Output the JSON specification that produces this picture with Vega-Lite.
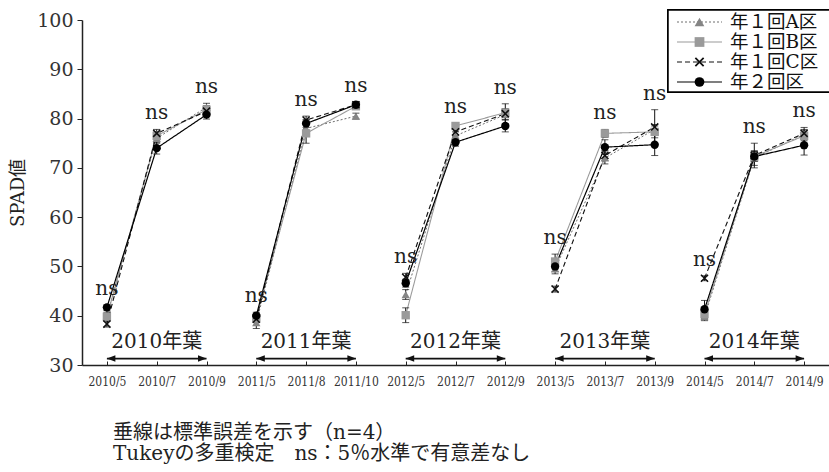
{
  "$schema": "https://vega.github.io/schema/vega-lite/v6.json",
  "width": 747,
  "height": 345,
  "autosize": {"type": "none"},
  "padding": {"left": 82, "top": 20, "right": 0, "bottom": 107},
  "background": "white",
  "config": {
    "view": {"stroke": null},
    "font": "DejaVu Serif, Noto Sans CJK JP, serif",
    "axis": {
      "grid": false,
      "domainColor": "#222",
      "domainWidth": 1.5,
      "tickColor": "#222",
      "labelColor": "#333",
      "labelFont": "DejaVu Serif",
      "titleFont": "DejaVu Serif, Noto Sans CJK JP",
      "titleFontWeight": "normal",
      "titleColor": "#222"
    },
    "axisX": {
      "labelAngle": 0,
      "labelFont": "DejaVu Serif Condensed, DejaVu Serif",
      "labelFontSize": 12,
      "labelPadding": 15,
      "tickSize": -4
    },
    "axisY": {
      "labelFontSize": 19,
      "labelPadding": 4,
      "tickSize": 5,
      "titleFontSize": 18,
      "titlePadding": 9
    }
  },
  "title": {
    "text": ["垂線は標準誤差を示す（n=4）", "Tukeyの多重検定　ns：5％水準で有意差なし"],
    "orient": "bottom",
    "anchor": "start",
    "frame": "group",
    "dx": 31,
    "offset": 36,
    "font": "DejaVu Serif, Noto Sans CJK JP",
    "fontSize": 20,
    "fontWeight": "normal",
    "lineHeight": 21,
    "color": "#222"
  },
  "datasets": {
    "spad": [
      {"date": "2010/5", "year": "2010", "series": "年１回A区", "value": 40.0, "se": 1.0},
      {"date": "2010/5", "year": "2010", "series": "年１回B区", "value": 39.8, "se": 0.8},
      {"date": "2010/5", "year": "2010", "series": "年１回C区", "value": 38.3, "se": 0.6},
      {"date": "2010/5", "year": "2010", "series": "年２回区", "value": 41.7, "se": 0.5},
      {"date": "2010/7", "year": "2010", "series": "年１回A区", "value": 76.0, "se": 1.0},
      {"date": "2010/7", "year": "2010", "series": "年１回B区", "value": 76.5, "se": 0.8},
      {"date": "2010/7", "year": "2010", "series": "年１回C区", "value": 77.0, "se": 0.8},
      {"date": "2010/7", "year": "2010", "series": "年２回区", "value": 74.0, "se": 1.2},
      {"date": "2010/9", "year": "2010", "series": "年１回A区", "value": 82.3, "se": 0.8},
      {"date": "2010/9", "year": "2010", "series": "年１回B区", "value": 81.8, "se": 0.8},
      {"date": "2010/9", "year": "2010", "series": "年１回C区", "value": 81.5, "se": 0.7},
      {"date": "2010/9", "year": "2010", "series": "年２回区", "value": 80.8, "se": 0.9},
      {"date": "2011/5", "year": "2011", "series": "年１回A区", "value": 38.6, "se": 1.2},
      {"date": "2011/5", "year": "2011", "series": "年１回B区", "value": 39.5, "se": 0.8},
      {"date": "2011/5", "year": "2011", "series": "年１回C区", "value": 39.3, "se": 0.6},
      {"date": "2011/5", "year": "2011", "series": "年２回区", "value": 40.0, "se": 0.7},
      {"date": "2011/8", "year": "2011", "series": "年１回A区", "value": 78.0, "se": 1.5},
      {"date": "2011/8", "year": "2011", "series": "年１回B区", "value": 77.0, "se": 2.0},
      {"date": "2011/8", "year": "2011", "series": "年１回C区", "value": 79.7, "se": 0.8},
      {"date": "2011/8", "year": "2011", "series": "年２回区", "value": 79.0, "se": 0.8},
      {"date": "2011/10", "year": "2011", "series": "年１回A区", "value": 80.5, "se": 0.6},
      {"date": "2011/10", "year": "2011", "series": "年１回B区", "value": 82.5, "se": 0.5},
      {"date": "2011/10", "year": "2011", "series": "年１回C区", "value": 82.8, "se": 0.5},
      {"date": "2011/10", "year": "2011", "series": "年２回区", "value": 82.8, "se": 0.6},
      {"date": "2012/5", "year": "2012", "series": "年１回A区", "value": 44.3, "se": 1.0},
      {"date": "2012/5", "year": "2012", "series": "年１回B区", "value": 40.1, "se": 1.5},
      {"date": "2012/5", "year": "2012", "series": "年１回C区", "value": 47.8, "se": 0.8},
      {"date": "2012/5", "year": "2012", "series": "年２回区", "value": 46.6, "se": 0.8},
      {"date": "2012/7", "year": "2012", "series": "年１回A区", "value": 76.5, "se": 0.8},
      {"date": "2012/7", "year": "2012", "series": "年１回B区", "value": 78.5, "se": 0.6},
      {"date": "2012/7", "year": "2012", "series": "年１回C区", "value": 77.3, "se": 0.8},
      {"date": "2012/7", "year": "2012", "series": "年２回区", "value": 75.2, "se": 0.8},
      {"date": "2012/9", "year": "2012", "series": "年１回A区", "value": 80.8, "se": 1.0},
      {"date": "2012/9", "year": "2012", "series": "年１回B区", "value": 81.2, "se": 0.8},
      {"date": "2012/9", "year": "2012", "series": "年１回C区", "value": 81.0, "se": 2.0},
      {"date": "2012/9", "year": "2012", "series": "年２回区", "value": 78.5, "se": 1.2},
      {"date": "2013/5", "year": "2013", "series": "年１回A区", "value": 49.5, "se": 1.0},
      {"date": "2013/5", "year": "2013", "series": "年１回B区", "value": 51.0, "se": 1.5},
      {"date": "2013/5", "year": "2013", "series": "年１回C区", "value": 45.4, "se": 0.6},
      {"date": "2013/5", "year": "2013", "series": "年２回区", "value": 50.0, "se": 1.0},
      {"date": "2013/7", "year": "2013", "series": "年１回A区", "value": 72.0, "se": 1.2},
      {"date": "2013/7", "year": "2013", "series": "年１回B区", "value": 77.0, "se": 0.8},
      {"date": "2013/7", "year": "2013", "series": "年１回C区", "value": 72.5, "se": 1.0},
      {"date": "2013/7", "year": "2013", "series": "年２回区", "value": 74.2, "se": 1.5},
      {"date": "2013/9", "year": "2013", "series": "年１回A区", "value": 77.8, "se": 1.0},
      {"date": "2013/9", "year": "2013", "series": "年１回B区", "value": 77.3, "se": 1.2},
      {"date": "2013/9", "year": "2013", "series": "年１回C区", "value": 78.3, "se": 3.5},
      {"date": "2013/9", "year": "2013", "series": "年２回区", "value": 74.7, "se": 2.2},
      {"date": "2014/5", "year": "2014", "series": "年１回A区", "value": 39.8, "se": 0.8},
      {"date": "2014/5", "year": "2014", "series": "年１回B区", "value": 40.3, "se": 1.0},
      {"date": "2014/5", "year": "2014", "series": "年１回C区", "value": 47.6, "se": 0.5},
      {"date": "2014/5", "year": "2014", "series": "年２回区", "value": 41.3, "se": 1.8},
      {"date": "2014/7", "year": "2014", "series": "年１回A区", "value": 72.0, "se": 1.5},
      {"date": "2014/7", "year": "2014", "series": "年１回B区", "value": 72.3, "se": 1.0},
      {"date": "2014/7", "year": "2014", "series": "年１回C区", "value": 72.5, "se": 2.5},
      {"date": "2014/7", "year": "2014", "series": "年２回区", "value": 72.3, "se": 1.0},
      {"date": "2014/9", "year": "2014", "series": "年１回A区", "value": 76.8, "se": 1.0},
      {"date": "2014/9", "year": "2014", "series": "年１回B区", "value": 76.5, "se": 1.0},
      {"date": "2014/9", "year": "2014", "series": "年１回C区", "value": 77.0, "se": 1.2},
      {"date": "2014/9", "year": "2014", "series": "年２回区", "value": 74.6, "se": 2.0}
    ],
    "years": [
      {"label": "2010年葉", "start": "2010/5", "mid": "2010/7", "end": "2010/9"},
      {"label": "2011年葉", "start": "2011/5", "mid": "2011/8", "end": "2011/10"},
      {"label": "2012年葉", "start": "2012/5", "mid": "2012/7", "end": "2012/9"},
      {"label": "2013年葉", "start": "2013/5", "mid": "2013/7", "end": "2013/9"},
      {"label": "2014年葉", "start": "2014/5", "mid": "2014/7", "end": "2014/9"}
    ],
    "seriesList": [
      {"series": "年１回A区"},
      {"series": "年１回B区"},
      {"series": "年１回C区"},
      {"series": "年２回区"}
    ]
  },
  "resolve": {"scale": {"x": "independent", "y": "independent"}},
  "layer": [
    {
      "layer": [
        {
          "data": {"name": "spad"},
          "mark": {"type": "line"},
          "encoding": {
            "x": {
              "field": "date",
              "type": "ordinal",
              "title": null,
              "scale": {
                "type": "point",
                "padding": 0.5,
                "domain": ["2010/5", "2010/7", "2010/9", "2011/5", "2011/8", "2011/10", "2012/5", "2012/7", "2012/9", "2013/5", "2013/7", "2013/9", "2014/5", "2014/7", "2014/9"]
              }
            },
            "y": {
              "field": "value",
              "type": "quantitative",
              "title": "SPAD値",
              "scale": {"domain": [30, 100], "nice": false, "zero": false},
              "axis": {"values": [30, 40, 50, 60, 70, 80, 90, 100]}
            },
            "detail": {"field": "year"},
            "order": {"value": null},
            "stroke": {
              "field": "series",
              "type": "nominal",
              "scale": {"domain": ["年１回A区", "年１回B区", "年１回C区", "年２回区"], "range": ["#6e6e6e", "#9a9a9a", "#111111", "#000000"]},
              "legend": null
            },
            "strokeDash": {
              "field": "series",
              "type": "nominal",
              "scale": {"domain": ["年１回A区", "年１回B区", "年１回C区", "年２回区"], "range": [[2, 2], [1, 0], [5, 3], [1, 0]]},
              "legend": null
            },
            "strokeWidth": {
              "field": "series",
              "type": "ordinal",
              "scale": {"domain": ["年１回A区", "年１回B区", "年１回C区", "年２回区"], "range": [1, 1.2, 1.4, 2]},
              "legend": null
            }
          }
        },
        {
          "data": {"name": "spad"},
          "mark": {"type": "errorbar", "ticks": {"size": 7}, "color": "#111"},
          "encoding": {
            "x": {"field": "date", "type": "ordinal", "title": null},
            "y": {"field": "value", "type": "quantitative", "title": "SPAD値"},
            "yError": {"field": "se"}
          }
        },
        {
          "data": {"name": "spad"},
          "mark": {"type": "point", "filled": true, "opacity": 1, "size": 70},
          "encoding": {
            "x": {"field": "date", "type": "ordinal", "title": null},
            "y": {"field": "value", "type": "quantitative", "title": "SPAD値"},
            "color": {
              "field": "series",
              "type": "nominal",
              "scale": {"domain": ["年１回A区", "年１回B区", "年１回C区", "年２回区"], "range": ["#858585", "#9a9a9a", "#111111", "#000000"]},
              "legend": null
            },
            "shape": {
              "field": "series",
              "type": "nominal",
              "scale": {"domain": ["年１回A区", "年１回B区", "年１回C区", "年２回区"], "range": ["triangle-up", "square", "M0.976,-0.721L0.255,0L0.976,0.721L0.721,0.976L0,0.255L-0.721,0.976L-0.976,0.721L-0.255,0L-0.976,-0.721L-0.721,-0.976L0,-0.255L0.721,-0.976Z", "circle"]},
              "legend": null
            }
          }
        },
        {
          "data": {"name": "spad"},
          "transform": [
            {"calculate": "datum.value + datum.se", "as": "top"},
            {"aggregate": [{"op": "max", "field": "top", "as": "top"}], "groupby": ["date"]}
          ],
          "mark": {"type": "text", "text": "ns", "font": "DejaVu Serif", "fontSize": 20, "dy": -16, "color": "#222", "baseline": "middle", "align": "center"},
          "encoding": {
            "x": {"field": "date", "type": "ordinal", "title": null},
            "y": {"field": "top", "type": "quantitative", "title": "SPAD値"}
          }
        },
        {
          "data": {"name": "years"},
          "mark": {"type": "text", "font": "DejaVu Serif, Noto Sans CJK JP", "fontSize": 20, "color": "#222", "baseline": "middle", "align": "center"},
          "encoding": {
            "x": {"field": "mid", "type": "ordinal", "title": null},
            "y": {"datum": 34.6, "type": "quantitative"},
            "text": {"field": "label"}
          }
        },
        {
          "data": {"name": "years"},
          "mark": {"type": "rule", "color": "#111", "strokeWidth": 1.8},
          "encoding": {
            "x": {"field": "start", "type": "ordinal", "title": null},
            "x2": {"field": "end"},
            "y": {"datum": 31.3, "type": "quantitative"}
          }
        },
        {
          "data": {"name": "years"},
          "mark": {"type": "point", "shape": "M0,0L1.7,-0.65L1.7,0.65Z", "filled": true, "opacity": 1, "size": 100, "color": "#111"},
          "encoding": {
            "x": {"field": "start", "type": "ordinal", "title": null},
            "y": {"datum": 31.3, "type": "quantitative"}
          }
        },
        {
          "data": {"name": "years"},
          "mark": {"type": "point", "shape": "M0,0L-1.7,-0.65L-1.7,0.65Z", "filled": true, "opacity": 1, "size": 100, "color": "#111"},
          "encoding": {
            "x": {"field": "end", "type": "ordinal", "title": null},
            "y": {"datum": 31.3, "type": "quantitative"}
          }
        }
      ]
    },
    {
      "data": {"name": "seriesList"},
      "layer": [
        {
          "mark": {"type": "rect", "fill": "white", "stroke": "black", "strokeWidth": 1.5, "yOffset": -12, "y2Offset": 10},
          "encoding": {
            "x": {"datum": -0.2, "type": "quantitative", "scale": {"domain": [0, 1], "range": [595, 640], "zero": false, "nice": false}, "axis": null},
            "x2": {"datum": 6},
            "y": {"datum": "年１回A区", "type": "nominal", "scale": {"type": "point", "domain": ["年１回A区", "年１回B区", "年１回C区", "年２回区"], "range": [2, 62], "padding": 0}, "axis": null},
            "y2": {"datum": "年２回区"}
          }
        },
        {
          "mark": {"type": "rule"},
          "encoding": {
            "x": {"datum": 0, "type": "quantitative", "scale": {"domain": [0, 1], "range": [595, 640], "zero": false, "nice": false}, "axis": null},
            "x2": {"datum": 1},
            "y": {"field": "series", "type": "nominal", "scale": {"type": "point", "domain": ["年１回A区", "年１回B区", "年１回C区", "年２回区"], "range": [2, 62], "padding": 0}, "axis": null},
            "stroke": {"field": "series", "type": "nominal", "legend": null},
            "strokeDash": {"field": "series", "type": "nominal", "legend": null},
            "strokeWidth": {"field": "series", "type": "ordinal", "legend": null}
          }
        },
        {
          "mark": {"type": "point", "filled": true, "opacity": 1, "size": 95},
          "encoding": {
            "x": {"datum": 0.5, "type": "quantitative", "scale": {"domain": [0, 1], "range": [595, 640], "zero": false, "nice": false}, "axis": null},
            "y": {"field": "series", "type": "nominal", "scale": {"type": "point", "domain": ["年１回A区", "年１回B区", "年１回C区", "年２回区"], "range": [2, 62], "padding": 0}, "axis": null},
            "color": {"field": "series", "type": "nominal", "legend": null},
            "shape": {"field": "series", "type": "nominal", "legend": null}
          }
        },
        {
          "mark": {"type": "text", "align": "left", "baseline": "middle", "dx": 8, "font": "DejaVu Serif, Noto Sans CJK JP", "fontSize": 18.5, "color": "#111"},
          "encoding": {
            "x": {"datum": 1, "type": "quantitative", "scale": {"domain": [0, 1], "range": [595, 640], "zero": false, "nice": false}, "axis": null},
            "y": {"field": "series", "type": "nominal", "scale": {"type": "point", "domain": ["年１回A区", "年１回B区", "年１回C区", "年２回区"], "range": [2, 62], "padding": 0}, "axis": null},
            "text": {"field": "series"}
          }
        }
      ]
    }
  ]
}
